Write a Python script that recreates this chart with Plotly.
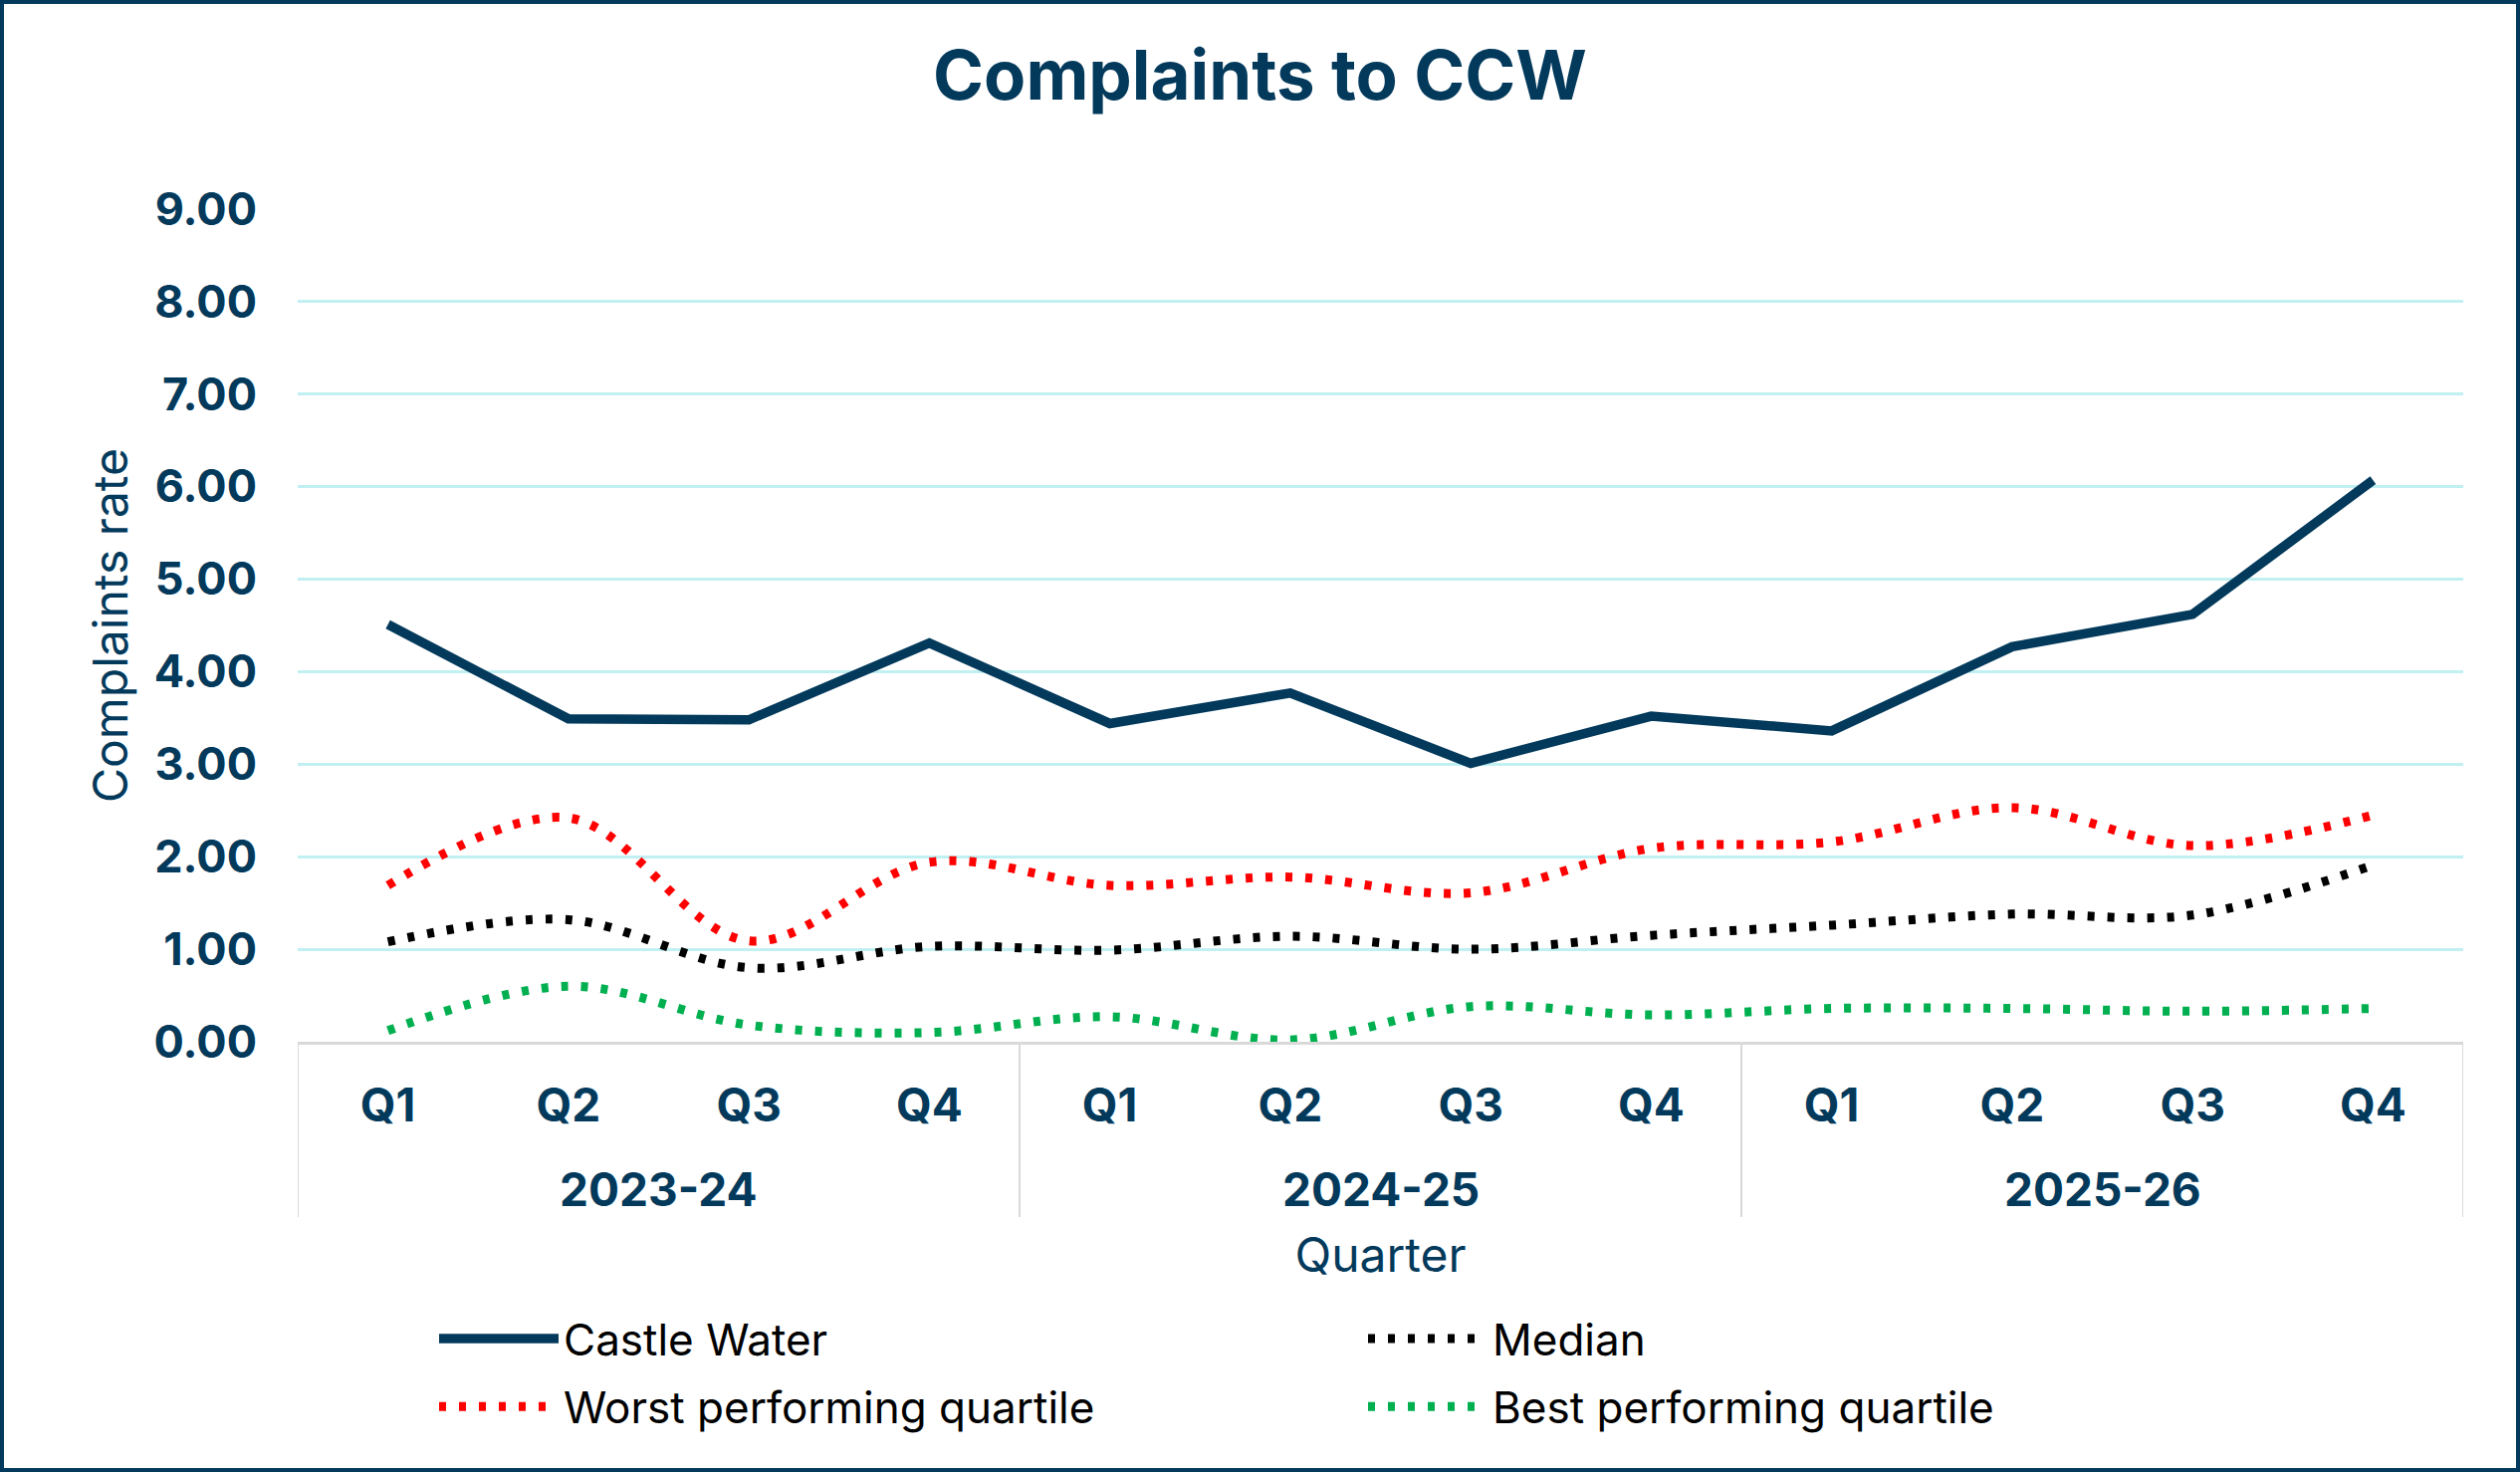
import plotly.graph_objects as go

years = ["2023-24"] * 4 + ["2024-25"] * 4 + ["2025-26"] * 4
quarters = ["Q1", "Q2", "Q3", "Q4"] * 3

castle_water = [4.51, 3.49, 3.48, 4.31, 3.44, 3.77, 3.01, 3.52, 3.36, 4.27, 4.62, 6.07]
worst_quartile = [1.69, 2.42, 1.09, 1.94, 1.69, 1.78, 1.61, 2.09, 2.16, 2.53, 2.12, 2.45]
median = [1.08, 1.32, 0.80, 1.03, 0.99, 1.14, 1.00, 1.15, 1.26, 1.38, 1.37, 1.91]
best_quartile = [0.12, 0.60, 0.18, 0.10, 0.27, 0.02, 0.38, 0.29, 0.36, 0.36, 0.33, 0.36]

y_ticks = [0, 1, 2, 3, 4, 5, 6, 7, 8, 9]

NAVY = "#033a5c"
GREY = "#d9d9d9"
FONT = "Inter"
W, H = 2531, 1478
L, R, T, B = 299, 57, 210, 432
PW, PH = W - L - R, H - T - B

x = list(range(len(quarters)))
DOT = "7px,13px"
DW = 9

fig = go.Figure()
fig.add_trace(go.Scatter(x=x, y=castle_water, name="Castle Water", mode="lines",
                         line=dict(color=NAVY, width=9.5), legend="legend", legendgroup="a"))
fig.add_trace(go.Scatter(x=x, y=worst_quartile, name="Worst performing quartile", mode="lines",
                         line=dict(color="#ff0000", width=DW, dash=DOT, shape="spline", smoothing=1),
                         legend="legend", legendgroup="b"))
fig.add_trace(go.Scatter(x=x, y=median, name="Median", mode="lines",
                         line=dict(color="#000000", width=DW, dash=DOT, shape="spline", smoothing=1),
                         legend="legend2", legendgroup="c"))
fig.add_trace(go.Scatter(x=x, y=best_quartile, name="Best performing quartile", mode="lines",
                         line=dict(color="#00b050", width=DW, dash=DOT, shape="spline", smoothing=1),
                         legend="legend2", legendgroup="d"))


def px_x(p):
    return (p - L) / PW


def px_y(p):
    return (H - B - p) / PH


legend_common = dict(orientation="v", yanchor="top", xanchor="left",
                     font=dict(family=FONT, size=44, color="#000000"),
                     itemwidth=120, tracegroupgap=8, bgcolor="rgba(0,0,0,0)",
                     itemclick=False, itemdoubleclick=False)

fig.update_layout(
    width=W, height=H,
    margin=dict(l=L, r=R, t=T, b=B),
    paper_bgcolor="white", plot_bgcolor="white",
    hovermode=False,
    title=dict(text="<b>Complaints to CCW</b>", x=0.5, xref="container", xanchor="center",
               y=1 - 76 / H, yref="container", yanchor="middle",
               font=dict(family=FONT, size=69, color=NAVY)),
    legend=dict(x=px_x(436), y=px_y(1309), **legend_common),
    legend2=dict(x=px_x(1369), y=px_y(1309), **legend_common),
    showlegend=True,
)

fig.update_xaxes(
    range=[-0.5, len(quarters) - 0.5],
    tickmode="array", tickvals=x, ticktext=quarters, ticks="", ticklabelstandoff=22,
    showline=True, linecolor=GREY, linewidth=3,
    showgrid=False, zeroline=False,
    tickfont=dict(family=FONT, size=46, color=NAVY, weight="bold"),
    title=dict(text="Quarter", font=dict(family=FONT, size=48, color=NAVY), standoff=108),
)
fig.update_yaxes(
    range=[0, 9], tickvals=y_ticks, tickformat=".2f",
    showgrid=True, gridcolor="#c0f0f2", gridwidth=3,
    zeroline=False, showline=False, ticks="", ticklabelstandoff=40,
    tickfont=dict(family=FONT, size=45, color=NAVY, weight="bold"),
    title=dict(text="Complaints rate", font=dict(family=FONT, size=48, color=NAVY), standoff=10),
)

# year group labels and the dividers between groups
groups = []
for i, yr in enumerate(years):
    if not groups or groups[-1][0] != yr:
        groups.append([yr, i, i])
    else:
        groups[-1][2] = i

div_bottom = px_y(1222)
for yr, i0, i1 in groups:
    fig.add_annotation(x=(i0 + i1) / 2, xref="x", y=px_y(1194), yref="paper",
                       text="<b>" + yr + "</b>", showarrow=False, yanchor="middle",
                       font=dict(family=FONT, size=46, color=NAVY))
    fig.add_shape(type="line", xref="x", yref="paper", x0=i0 - 0.5, x1=i0 - 0.5,
                  y0=0, y1=div_bottom, line=dict(color=GREY, width=2))
fig.add_shape(type="line", xref="x", yref="paper", x0=len(years) - 0.5, x1=len(years) - 0.5,
              y0=0, y1=div_bottom, line=dict(color=GREY, width=2))

# outer frame around the whole chart
fig.add_shape(type="rect", xref="paper", yref="paper",
              x0=px_x(2), x1=px_x(W - 2), y0=px_y(H - 2), y1=px_y(2),
              line=dict(color=NAVY, width=4), fillcolor="rgba(0,0,0,0)", layer="above")

fig.write_html("out.html")
